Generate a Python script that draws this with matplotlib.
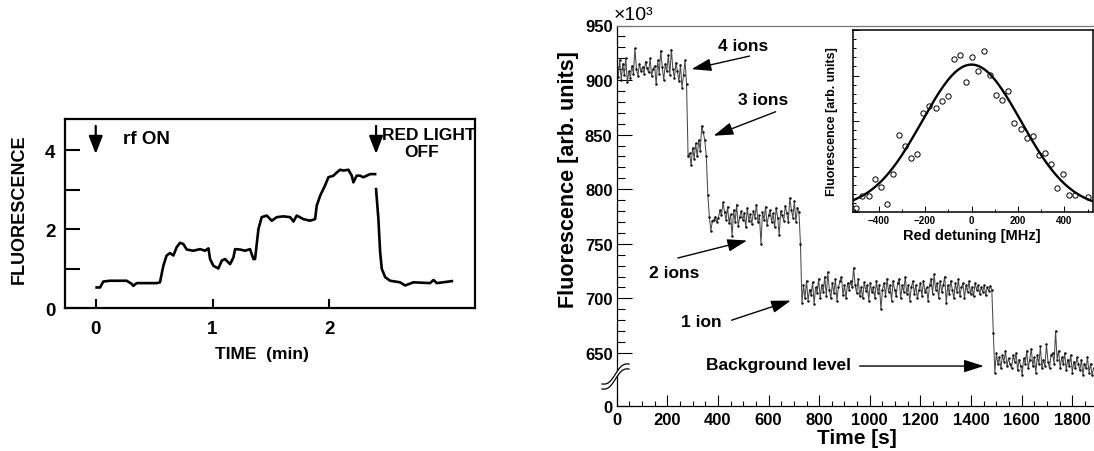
import numpy as np
import matplotlib
matplotlib.use("Agg")
import matplotlib.pyplot as plt
from matplotlib.ticker import FixedLocator, MultipleLocator, NullFormatter
from matplotlib.lines import Line2D
from matplotlib.patches import Polygon

plt.rcParams['font.family'] = ['Liberation Sans', 'DejaVu Sans']
plt.rcParams['font.weight'] = 'bold'
plt.rcParams['axes.labelweight'] = 'bold'

# ---------------- left panel: early measurement ----------------
left_rise_time_min = [0.008, 0.037, 0.065, 0.122, 0.265, 0.308, 0.322, 0.351, 0.522, 0.550,
                      0.579, 0.607, 0.636, 0.665, 0.693, 0.722, 0.750, 0.779, 0.836, 0.893,
                      0.936, 0.965, 0.979, 1.007, 1.050, 1.079, 1.107, 1.150, 1.179, 1.193,
                      1.236, 1.279, 1.321, 1.350, 1.364, 1.393, 1.421, 1.464, 1.507, 1.550,
                      1.607, 1.664, 1.693, 1.721, 1.778, 1.835, 1.878, 1.892, 1.921, 1.963,
                      1.992, 2.035, 2.063, 2.092, 2.120, 2.163, 2.192, 2.206, 2.234, 2.263,
                      2.291, 2.349, 2.392]
left_rise_fluor = [0.52, 0.52, 0.67, 0.69, 0.69, 0.61, 0.56, 0.63, 0.63, 0.65,
                   1.07, 1.33, 1.39, 1.33, 1.54, 1.65, 1.62, 1.48, 1.45, 1.49,
                   1.45, 1.51, 1.24, 1.07, 1.00, 1.20, 1.24, 1.11, 1.28, 1.49,
                   1.48, 1.45, 1.49, 1.24, 1.24, 2.00, 2.30, 2.34, 2.21, 2.30,
                   2.32, 2.30, 2.19, 2.34, 2.25, 2.21, 2.25, 2.59, 2.84, 3.10,
                   3.31, 3.35, 3.43, 3.50, 3.48, 3.50, 3.35, 3.18, 3.35, 3.35,
                   3.31, 3.39, 3.39]
left_fall_time_min = [2.400, 2.420, 2.435, 2.449, 2.478, 2.520, 2.606, 2.649, 2.720, 2.863,
                      2.892, 2.920, 3.049]
left_fall_fluor = [3.01, 2.25, 1.41, 0.99, 0.78, 0.69, 0.65, 0.57, 0.65, 0.63,
                   0.71, 0.63, 0.68]
left_xticks = [0, 1, 2]
left_yticks_labeled = [0, 2, 4]
left_yticks = [1, 2, 3, 4]
rf_on_time = 0.0
red_off_time = 2.40

# ---------------- right panel: ion counting trace ----------------
sample_interval_s = 6
fluor_4ions = [912, 903, 918, 900, 915, 905, 920, 898, 908, 902,
               913, 906, 929, 910, 904, 915, 908, 912, 906, 917,
               911, 907, 920, 904, 910, 913, 896, 918, 906, 927,
               912, 900, 915, 908, 923, 905, 928, 910, 902, 916,
               908, 899, 914, 893, 905, 918, 896]
fluor_3ions = [830, 833, 822, 838, 828, 842, 830, 845, 835, 858, 852, 845, 830]
fluor_2ions = [795, 775, 762, 771, 772, 775, 770, 774, 781, 776,
               788, 779, 772, 784, 769, 777, 757, 781, 770, 786,
               766, 775, 780, 772, 778, 765, 783, 771, 777, 768,
               780, 774, 786, 770, 776, 750, 779, 772, 784, 767,
               776, 781, 770, 778, 765, 783, 774, 758, 780, 776,
               771, 785, 778, 770, 792, 781, 774, 789, 770, 783,
               779]
fluor_1ion = [750, 696, 712, 700, 716, 698, 708, 703, 715, 695,
              710, 705, 718, 700, 712, 706, 720, 702, 724, 708,
              700, 714, 705, 718, 698, 710, 716, 720, 703, 712,
              700, 714, 708, 716, 710, 728, 712, 705, 718, 702,
              710, 700, 715, 707, 712, 698, 714, 706, 710, 700,
              716, 705, 712, 690, 708, 714, 702, 718, 706, 712,
              698, 716, 708, 702, 714, 718, 700, 712, 706, 720,
              704, 712, 698, 710, 716, 704, 712, 700, 708, 714,
              702, 716, 706, 710, 698, 712, 718, 704, 722, 708,
              714, 700, 716, 706, 712, 720, 696, 712, 704, 716,
              708, 700, 714, 706, 718, 702, 710, 714, 700, 712,
              706, 716, 704, 710, 702, 714, 708, 712, 704, 710,
              706, 712, 703, 710, 707, 711, 708]
fluor_background = [668, 632, 650, 640, 646, 636, 648, 642, 652, 638,
                     645, 640, 636, 648, 642, 650, 634, 644, 638, 630,
                     645, 640, 652, 636, 644, 654, 638, 646, 632, 648,
                     640, 656, 636, 644, 638, 658, 642, 636, 648, 650,
                     640, 670, 644, 652, 636, 646, 640, 650, 634, 644,
                     638, 648, 632, 642, 636, 646, 640, 634, 644, 630,
                     640, 636, 646, 632, 640, 628, 636]
main_xticks = [0, 200, 400, 600, 800, 1000, 1200, 1400, 1600, 1800]
main_yticks = [0, 650, 700, 750, 800, 850, 900, 950]
main_ytick_labels = ['0', '650', '700', '750', '800', '850', '900', '950']

annotations = [  # label, text pos (t, F), arrow tail, arrow head
    ("4 ions", (500, 932), (525, 922), (296, 910)),
    ("3 ions", (580, 882), (628, 871), (383, 849)),
    ("2 ions", (228, 724), (242, 737), (515, 753)),
    ("1 ion", (335, 679), (454, 680), (688, 698)),
    ("Background level", (640, 639.5), (960, 638), (1450, 638)),
]

# ---------------- inset: detuning scan ----------------
detuning_mhz = [-496, -470, -442, -417, -391, -366, -338, -313, -285, -260,
                -234, -208, -182, -155, -129, -103, -77, -50, -24, 1,
                27, 54, 80, 106, 132, 159, 185, 211, 237, 264,
                290, 315, 343, 368, 394, 420, 446, 500]
detuning_fluor = [0.020, 0.090, 0.090, 0.183, 0.138, 0.042, 0.208, 0.421, 0.362, 0.299,
                  0.316, 0.544, 0.583, 0.574, 0.611, 0.638, 0.838, 0.862, 0.716, 0.849,
                  0.775, 0.887, 0.755, 0.644, 0.616, 0.666, 0.489, 0.458, 0.408, 0.417,
                  0.312, 0.325, 0.262, 0.131, 0.207, 0.096, 0.094, 0.081]
fit_amplitude = 0.79
fit_center = 0.0
fit_sigma = 213.0
fit_offset = 0.02
inset_xticks = [-400, -200, 0, 200, 400]

# ================= drawing =================
W, H = 1094, 452
fig = plt.figure(figsize=(W / 100, H / 100), dpi=100)
fig.patch.set_facecolor('white')

def frac(x0, y_top, x1, y_bot):
    return [x0 / W, 1 - y_bot / H, (x1 - x0) / W, (y_bot - y_top) / H]

# ---- left panel ----
axl = fig.add_axes(frac(65, 120, 475, 309))
axl.plot(left_rise_time_min, left_rise_fluor, color='black', lw=1.9, solid_joinstyle='round')
axl.plot(left_fall_time_min, left_fall_fluor, color='black', lw=1.9, solid_joinstyle='round')
axl.set_xlim(-0.263, 3.247)
axl.set_ylim(0, 4.785)
for s in axl.spines.values():
    s.set_linewidth(1.6)
axl.xaxis.set_major_locator(FixedLocator(left_xticks))
axl.yaxis.set_major_locator(FixedLocator(left_yticks_labeled))
axl.yaxis.set_minor_locator(FixedLocator([v for v in left_yticks if v not in left_yticks_labeled]))
axl.tick_params(axis='y', which='both', direction='in', length=11, width=1.5, labelsize=13.5, pad=7)
axl.tick_params(axis='x', which='both', direction='in', length=6.5, width=1.5, labelsize=13.5, pad=9)
axl.set_ylabel('FLUORESCENCE', fontsize=13)
axl.yaxis.label.set_va('center')
axl.yaxis.set_label_coords(-0.112, 0.529)
axl.set_xlabel('TIME  (min)', fontsize=12.5)
axl.xaxis.label.set_va('center')
axl.xaxis.set_label_coords(0.48, -0.243)
arrow_kw = dict(arrowstyle='-|>,head_length=0.9,head_width=0.35', lw=1.6, color='black',
                shrinkA=0, shrinkB=0, mutation_scale=12)
axl.annotate('', xy=(rf_on_time, 3.90), xytext=(rf_on_time, 4.61), arrowprops=arrow_kw)
axl.annotate('', xy=(red_off_time, 3.90), xytext=(red_off_time, 4.61), arrowprops=arrow_kw)
axl.text(0.43, 4.28, 'rf ON', fontsize=13.5, ha='center', va='center')
axl.text(2.85, 4.40, 'RED LIGHT', fontsize=12.5, ha='center', va='center')
axl.text(2.79, 3.96, 'OFF', fontsize=12.5, ha='center', va='center')

# ---- right main panel ----
BREAK_AT = 630.0
ZERO_EQ = 601.4

def fwd(y):
    y = np.asarray(y, dtype=float)
    return np.where(y >= BREAK_AT, y, ZERO_EQ + y * (BREAK_AT - ZERO_EQ) / BREAK_AT)

def inv(u):
    u = np.asarray(u, dtype=float)
    return np.where(u >= BREAK_AT, u, (u - ZERO_EQ) * BREAK_AT / (BREAK_AT - ZERO_EQ))

trace = np.array(fluor_4ions + fluor_3ions + fluor_2ions + fluor_1ion + fluor_background, dtype=float)
times = np.arange(trace.size) * sample_interval_s

axm = fig.add_axes(frac(616.7, 26.5, 1097.6, 407))
axm.set_yscale('function', functions=(fwd, inv))
axm.plot(times, trace, color='#4a4a4a', lw=0.75, marker='.', ms=1.6, mec='#111111', mfc='#111111')
axm.set_xlim(0, 1900)
axm.set_ylim(0, 950)
axm.xaxis.set_major_locator(FixedLocator(main_xticks))
axm.xaxis.set_minor_locator(MultipleLocator(50))
axm.yaxis.set_major_locator(FixedLocator(main_yticks))
axm.yaxis.set_ticklabels(main_ytick_labels)
axm.yaxis.set_minor_locator(FixedLocator([v for v in range(660, 950, 10) if v % 50 != 0]))
axm.yaxis.set_minor_formatter(NullFormatter())
axm.tick_params(axis='y', which='major', direction='in', length=10.5, width=0.8, labelsize=12, pad=3)
axm.tick_params(axis='y', which='minor', direction='in', length=5.5, width=0.8)
axm.tick_params(axis='x', which='major', direction='in', length=8, width=0.8, labelsize=12, pad=4)
axm.tick_params(axis='x', which='minor', direction='in', length=3.8, width=0.8)
for s in axm.spines.values():
    s.set_linewidth(0.9)
axm.spines['top'].set_color('#777777')
axm.set_xlabel('Time [s]', fontsize=15)
axm.xaxis.label.set_va('top')
axm.xaxis.set_label_coords(0.5, -0.058)
axm.set_ylabel('Fluorescence [arb. units]', fontsize=15.5)
axm.yaxis.label.set_va('center')
axm.yaxis.set_label_coords(-0.100, 0.599)
fig.text(614 / W, 1 - 16 / H, '×10³', fontsize=14, fontweight='normal', ha='left', va='center')

ann_arrow = dict(arrowstyle='-|>,head_length=1.0,head_width=0.32', lw=1.0, color='black',
                 shrinkA=0, shrinkB=0, mutation_scale=12)
for label, tpos, tail, head in annotations:
    axm.text(tpos[0], tpos[1], label, fontsize=12.5, ha='center', va='center')
    axm.annotate('', xy=head, xytext=tail, arrowprops=ann_arrow)

# axis-break symbol on the left spine
s = np.linspace(0, 1, 40)
bx = 602 + 27 * s
by = 390 - 20 * s + 3.5 * np.sin(2 * np.pi * s)
gap = 5
poly = np.column_stack([np.concatenate([bx, bx[::-1]]) / W,
                        1 - np.concatenate([by, (by - gap)[::-1]]) / H])
fig.add_artist(Polygon(poly, closed=True, facecolor='white', edgecolor='none',
                       transform=fig.transFigure, zorder=5))
for off in (0, gap):
    fig.add_artist(Line2D(bx / W, 1 - (by - off) / H, color='black', lw=0.9,
                          transform=fig.transFigure, zorder=6))

# ---- inset ----
axi = fig.add_axes(frac(852.7, 31, 1092.7, 213))
axi.set_facecolor('white')
xs = np.linspace(-515, 525, 300)
fit_curve = fit_offset + fit_amplitude * np.exp(-0.5 * ((xs - fit_center) / fit_sigma) ** 2)
axi.plot(xs, fit_curve, color='black', lw=1.7)
axi.plot(detuning_mhz, detuning_fluor, linestyle='none', marker='o', ms=3.8,
         mfc='none', mec='black', mew=0.7)
axi.set_xlim(-512, 522)
axi.set_ylim(0, 1.0)
for sp in axi.spines.values():
    sp.set_linewidth(1.1)
axi.xaxis.set_major_locator(FixedLocator(inset_xticks))
axi.xaxis.set_minor_locator(MultipleLocator(100))
axi.yaxis.set_major_locator(MultipleLocator(0.25))
axi.yaxis.set_minor_locator(MultipleLocator(0.05))
axi.yaxis.set_major_formatter(NullFormatter())
axi.tick_params(axis='x', which='major', direction='in', length=4, width=0.7, labelsize=7, pad=2)
axi.tick_params(axis='x', which='minor', direction='in', length=2.2, width=0.7)
axi.tick_params(axis='y', which='major', direction='in', length=4, width=0.7)
axi.tick_params(axis='y', which='minor', direction='in', length=2.2, width=0.7)
axi.set_xlabel('Red detuning [MHz]', fontsize=10.5)
axi.xaxis.label.set_va('center')
axi.xaxis.set_label_coords(0.496, -0.125)
axi.set_ylabel('Fluorescence [arb. units]', fontsize=9)
axi.yaxis.label.set_va('center')
axi.yaxis.set_label_coords(-0.086, 0.5)

fig.savefig('out.png', dpi=100, facecolor='white')
